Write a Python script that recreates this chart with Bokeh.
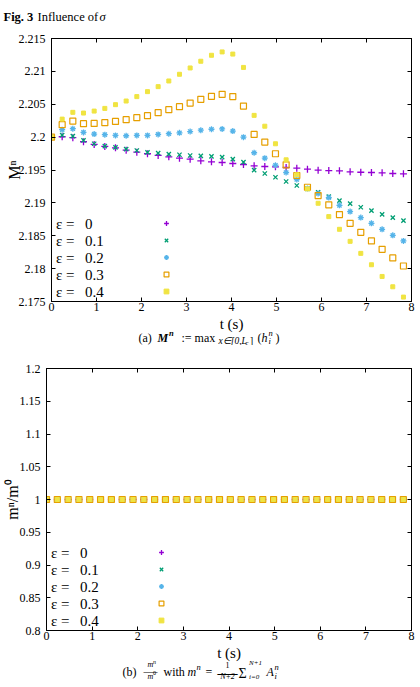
from bokeh.embed import file_html
from bokeh.layouts import column
from bokeh.models import CustomJSTickFormatter, FixedTicker, Label, Legend, LegendItem, LinearAxis
from bokeh.plotting import figure
from bokeh.resources import INLINE

SERIF = "Liberation Serif"

# ---------------------------------------------------------------- data
# time levels (s)
t_s = [0.0, 0.237, 0.474, 0.711, 0.948, 1.185, 1.422, 1.659, 1.896, 2.133,
       2.37, 2.607, 2.844, 3.081, 3.318, 3.555, 3.792, 4.029, 4.266, 4.503,
       4.74, 4.977, 5.214, 5.451, 5.688, 5.925, 6.162, 6.399, 6.636, 6.873,
       7.11, 7.347, 7.584, 7.821]

eps_values = ["0", "0.1", "0.2", "0.3", "0.4"]

# (a) maximum height M^n for each epsilon
M_eps_0 = [2.2, 2.20006, 2.19991, 2.1993, 2.19889, 2.19858, 2.19838, 2.19802, 2.19771, 2.19747,
           2.19721, 2.19701, 2.1968, 2.19665, 2.1964, 2.19625, 2.19614, 2.19599, 2.19584, 2.19564,
           2.19553, 2.19549, 2.19538, 2.19527, 2.19512, 2.19497, 2.19492, 2.19488, 2.19473, 2.19466,
           2.19462, 2.19457, 2.19447, 2.19442]
M_eps_01 = [2.2, 2.2003, 2.20015, 2.1995, 2.19899, 2.19863, 2.19843, 2.19817, 2.19797, 2.19767,
            2.19756, 2.19741, 2.19732, 2.19721, 2.19716, 2.19706, 2.19695, 2.19665, 2.19619, 2.19497,
            2.19447, 2.1939, 2.19325, 2.19264, 2.19213, 2.19162, 2.19096, 2.19035, 2.18989, 2.18933,
            2.18883, 2.18826, 2.18776, 2.1873]
M_eps_02 = [2.2, 2.20113, 2.20128, 2.20072, 2.20046, 2.20037, 2.20026, 2.20021, 2.20026, 2.20026,
            2.20041, 2.20052, 2.20065, 2.20085, 2.20105, 2.2012, 2.20124, 2.20092, 2.2, 2.19762,
            2.1968, 2.19572, 2.19462, 2.19355, 2.1922, 2.19142, 2.1908, 2.18963, 2.18867, 2.18776,
            2.18689, 2.18598, 2.18506, 2.18421]
M_eps_03 = [2.2, 2.20189, 2.20244, 2.20204, 2.20209, 2.2022, 2.20239, 2.20265, 2.20296, 2.20326,
            2.20372, 2.20418, 2.20463, 2.20518, 2.20575, 2.2062, 2.20651, 2.20616, 2.20473, 2.20041,
            2.19924, 2.19747, 2.19579, 2.19416, 2.19238, 2.19111, 2.1897, 2.18822, 2.18689, 2.18552,
            2.18421, 2.18293, 2.18162, 2.1804]
M_eps_04 = [2.2, 2.20274, 2.20377, 2.20366, 2.20396, 2.20437, 2.20494, 2.20549, 2.20616, 2.20692,
            2.20768, 2.20854, 2.20956, 2.21052, 2.21154, 2.21245, 2.21296, 2.21263, 2.2106, 2.20331,
            2.20166, 2.19899, 2.19655, 2.19427, 2.19213, 2.18994, 2.18791, 2.18598, 2.18415, 2.18232,
            2.18059, 2.17881, 2.17724, 2.17567]

# (b) mass ratio m^n / m^0 for each epsilon
m_ratio_eps_0 = [1.0, 1.0, 1.0, 1.0, 1.0, 1.0, 1.0, 1.0, 1.0, 1.0, 1.0, 1.0, 1.0, 1.0, 1.0, 1.0, 1.0,
                 1.0, 1.0, 1.0, 1.0, 1.0, 1.0, 1.0, 1.0, 1.0, 1.0, 1.0, 1.0, 1.0, 1.0, 1.0, 1.0, 1.0]
m_ratio_eps_01 = [1.0, 1.0, 1.0, 1.0, 1.0, 1.0, 1.0, 1.0, 1.0, 1.0, 1.0, 1.0, 1.0, 1.0, 1.0, 1.0, 1.0,
                  1.0, 1.0, 1.0, 1.0, 1.0, 1.0, 1.0, 1.0, 1.0, 1.0, 1.0, 1.0, 1.0, 1.0, 1.0, 1.0, 1.0]
m_ratio_eps_02 = [1.0, 1.0, 1.0, 1.0, 1.0, 1.0, 1.0, 1.0, 1.0, 1.0, 1.0, 1.0, 1.0, 1.0, 1.0, 1.0, 1.0,
                  1.0, 1.0, 1.0, 1.0, 1.0, 1.0, 1.0, 1.0, 1.0, 1.0, 1.0, 1.0, 1.0, 1.0, 1.0, 1.0, 1.0]
m_ratio_eps_03 = [1.0, 1.0, 1.0, 1.0, 1.0, 1.0, 1.0, 1.0, 1.0, 1.0, 1.0, 1.0, 1.0, 1.0, 1.0, 1.0, 1.0,
                  1.0, 1.0, 1.0, 1.0, 1.0, 1.0, 1.0, 1.0, 1.0, 1.0, 1.0, 1.0, 1.0, 1.0, 1.0, 1.0, 1.0]
m_ratio_eps_04 = [1.0, 1.0, 1.0, 1.0, 1.0, 1.0, 1.0, 1.0, 1.0, 1.0, 1.0, 1.0, 1.0, 1.0, 1.0, 1.0, 1.0,
                  1.0, 1.0, 1.0, 1.0, 1.0, 1.0, 1.0, 1.0, 1.0, 1.0, 1.0, 1.0, 1.0, 1.0, 1.0, 1.0, 1.0]

x_ticks = [0, 1, 2, 3, 4, 5, 6, 7, 8]
x_tick_labels = ["0", "1", "2", "3", "4", "5", "6", "7", "8"]
M_ticks = [2.175, 2.18, 2.185, 2.19, 2.195, 2.2, 2.205, 2.21, 2.215]
M_tick_labels = ["2.175", "2.18", "2.185", "2.19", "2.195", "2.2", "2.205", "2.21", "2.215"]
m_ticks = [0.8, 0.85, 0.9, 0.95, 1.0, 1.05, 1.1, 1.15, 1.2]
m_tick_labels = ["0.8", "0.85", "0.9", "0.95", "1", "1.05", "1.1", "1.15", "1.2"]

# ---------------------------------------------------------------- styles
MARKERS = [
    dict(marker="cross", size=7, line_color="#9400D3", fill_color=None, line_width=1.3),
    dict(marker="x", size=6, line_color="#009E73", fill_color=None, line_width=1.3),
    dict(marker="asterisk", size=6, line_color="#56B4E9", fill_color=None, line_width=1.3),
    dict(marker="square", size=6, line_color="#E69F00", fill_color=None, line_width=1.2),
    dict(marker="square", size=4, line_color="#F0E442", fill_color="#F0E442", line_width=1),
]
W = 420


def add_text(p, fig_top, fig_h, cx, cy, text, size, style="normal",
             align="left", baseline="alphabetic"):
    """Place a text at page position (cx, cy) inside a full-frame strip figure."""
    p.add_layout(Label(x=cx, y=fig_h - (cy - fig_top),
                       x_units="screen", y_units="screen", text=text,
                       text_font=SERIF, text_font_size=f"{size}px",
                       text_font_style=style, text_align=align,
                       text_baseline=baseline, text_color="black"))


def text_strip(height):
    """A frame-only figure that carries titles and captions."""
    p = figure(width=W, height=height, x_range=(0, W), y_range=(0, height),
               x_axis_type=None, y_axis_type=None, output_backend="svg",
               toolbar_location=None, frame_align=False,
               min_border_left=0, min_border_right=0, min_border_top=0, min_border_bottom=0,
               outline_line_color=None, background_fill_color="white",
               border_fill_color="white")
    p.grid.visible = False
    return p


def style_axis(axis, ticks, labels=None):
    axis.ticker = FixedTicker(ticks=ticks)
    if labels is None:
        axis.formatter = CustomJSTickFormatter(code="return ''")
        axis.major_label_standoff = 0
        axis.major_label_text_font_size = "0px"
    else:
        axis.major_label_overrides = dict(zip(ticks, labels))
        axis.major_label_text_font_size = "12px"
    axis.major_tick_in = 4
    axis.major_tick_out = 0
    axis.minor_tick_line_color = None
    axis.axis_line_color = "black"
    axis.major_tick_line_color = "black"
    axis.major_label_text_font = SERIF
    axis.major_label_text_color = "black"


def make_panel(height, left, top, bottom, y_range, y_ticks, y_labels, ylabel, ylabel_standoff, series):
    p = figure(width=W, height=height, x_range=(0, 8), y_range=y_range,
               output_backend="svg", toolbar_location=None, frame_align=False,
               min_border_left=left, min_border_right=9,
               min_border_top=top, min_border_bottom=bottom,
               background_fill_color="white", border_fill_color="white",
               outline_line_color="black", outline_line_width=1)
    p.grid.visible = False

    style_axis(p.xaxis[0], x_ticks, x_tick_labels)
    p.xaxis[0].major_label_standoff = 1

    yax = p.yaxis[0]
    style_axis(yax, y_ticks, y_labels)
    yax.major_label_standoff = 6
    yax.axis_label = ylabel
    yax.axis_label_text_font = SERIF
    yax.axis_label_text_font_size = "16px"
    yax.axis_label_text_font_style = "normal"
    yax.axis_label_text_color = "black"
    yax.axis_label_standoff = ylabel_standoff

    top_axis = LinearAxis()
    style_axis(top_axis, x_ticks)
    p.add_layout(top_axis, "above")
    right_axis = LinearAxis()
    style_axis(right_axis, y_ticks)
    p.add_layout(right_axis, "right")

    renderers = [p.scatter(t_s, vals, **st) for vals, st in zip(series, MARKERS)]

    # key: text on the left, symbol column to the right
    items = [LegendItem(label=" ", renderers=[r]) for r in renderers]
    p.add_layout(Legend(items=items, location=(109, 4), orientation="vertical",
                        glyph_width=12, glyph_height=12, label_height=12, label_width=1,
                        spacing=5, padding=0, margin=0, label_standoff=0,
                        border_line_color=None, background_fill_alpha=0,
                        label_text_font_size="1px"))
    for i, eps in enumerate(eps_values):
        yc = 10 + 17 * (len(eps_values) - 1 - i)
        p.add_layout(Label(x=4.5, y=yc, x_units="screen", y_units="screen", text="ε =",
                           text_font=SERIF, text_font_size="15px", text_baseline="middle",
                           text_color="black"))
        p.add_layout(Label(x=33.5, y=yc, x_units="screen", y_units="screen", text=eps,
                           text_font=SERIF, text_font_size="15px", text_baseline="middle",
                           text_color="black"))
    return p


# ---------------------------------------------------------------- page title
TITLE_H = 25
f_title = text_strip(TITLE_H)
add_text(f_title, 0, TITLE_H, 3, 16, "Fig. 3", 12.5, "bold")
add_text(f_title, 0, TITLE_H, 37, 16, "Influence of", 12.5)
add_text(f_title, 0, TITLE_H, 99, 16, "σ", 12.5, "italic")

# ---------------------------------------------------------------- (a)
p_top = make_panel(316 - TITLE_H, 51, 38 - TITLE_H, 15, (2.175, 2.215), M_ticks, M_tick_labels,
                   "Mⁿ", -7, [M_eps_0, M_eps_01, M_eps_02, M_eps_03, M_eps_04])

CAP_A_TOP, CAP_A_H = 316, 29
f_cap_a = text_strip(CAP_A_H)
add_text(f_cap_a, CAP_A_TOP, CAP_A_H, 231, 323, "t (s)", 15, align="center", baseline="middle")
for txt, cx, cy, size, style in [
    ("(a)", 138, 337, 12, "normal"),
    ("M", 157, 337, 12, "bold italic"),
    ("n", 168.5, 332, 8.5, "bold italic"),
    (":= max", 181, 337, 12, "normal"),
    ("x∈[0,L", 218, 340.5, 9.5, "italic"),
    ("c", 245, 342, 6.5, "italic"),
    ("]", 249.5, 340.5, 9.5, "normal"),
    ("(", 257, 337, 12, "normal"),
    ("h", 261, 337, 12, "italic"),
    ("n", 268, 332, 8.5, "italic"),
    ("i", 268, 340.5, 8.5, "italic"),
    (")", 275, 337, 12, "normal"),
]:
    add_text(f_cap_a, CAP_A_TOP, CAP_A_H, cx, cy, txt, size, style)

# ---------------------------------------------------------------- (b)
p_bot = make_panel(300, 46, 23, 15, (0.8, 1.2), m_ticks, m_tick_labels, "mⁿ/m⁰", -4,
                   [m_ratio_eps_0, m_ratio_eps_01, m_ratio_eps_02, m_ratio_eps_03, m_ratio_eps_04])

CAP_B_TOP, CAP_B_H = 645, 42
f_cap_b = text_strip(CAP_B_H)
add_text(f_cap_b, CAP_B_TOP, CAP_B_H, 228.5, 652.5, "t (s)", 15, align="center", baseline="middle")
for txt, cx, cy, size, style, align in [
    ("(b)", 122, 671, 12, "normal", "left"),
    ("m", 150, 664, 8, "italic", "center"),
    ("n", 152.5, 661, 6, "italic", "left"),
    ("—", 143, 670.5, 14, "normal", "left"),
    ("m", 150, 675.5, 8, "italic", "center"),
    ("0", 152.5, 672.5, 6, "normal", "left"),
    ("with", 163, 671, 12, "normal", "left"),
    ("m", 187, 671, 12, "italic", "left"),
    ("n", 196, 666, 8.5, "italic", "left"),
    ("=", 205, 671, 12, "normal", "left"),
    ("1", 227, 664, 8, "normal", "center"),
    ("—", 217, 672, 20, "normal", "left"),
    ("N+2", 227, 675.5, 8, "italic", "center"),
    ("Σ", 238, 673, 14, "normal", "left"),
    ("N+1", 248.5, 662, 7, "italic", "left"),
    ("i=0", 248.5, 676.5, 7, "italic", "left"),
    ("A", 266, 671, 12, "italic", "left"),
    ("n", 274, 666, 8.5, "italic", "left"),
    ("i", 274, 675, 8.5, "italic", "left"),
]:
    add_text(f_cap_b, CAP_B_TOP, CAP_B_H, cx, cy, txt, size, style, align=align)

layout = column(f_title, p_top, f_cap_a, p_bot, f_cap_b)

with open("out.html", "w") as f:
    f.write(file_html(layout, INLINE, title="Influence of sigma"))
